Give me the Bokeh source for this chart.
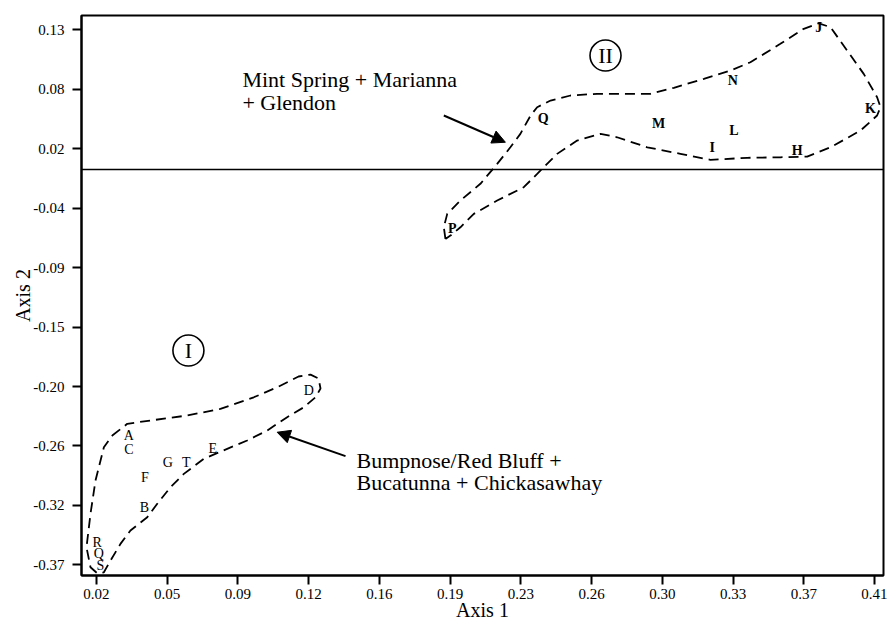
from bokeh.plotting import figure
from bokeh.models import Range1d, FixedTicker, Span, Arrow, NormalHead, Label, ColumnDataSource
from bokeh.core.properties import value
from bokeh.embed import file_html
from bokeh.resources import INLINE

FONT = "Liberation Serif"

# Axis ticks (evenly spaced positions, printed labels as in the reference)
x_tick_values = [0.016, 0.0514, 0.0868, 0.1222, 0.1576, 0.1930, 0.2284, 0.2638, 0.2992, 0.3346, 0.3700, 0.4054]
x_tick_labels = ["0.02", "0.05", "0.09", "0.12", "0.16", "0.19", "0.23", "0.26", "0.30", "0.33", "0.37", "0.41"]
y_tick_values = [-0.3712, -0.3154, -0.2596, -0.2038, -0.1480, -0.0922, -0.0364, 0.0194, 0.0752, 0.1310]
y_tick_labels = ["-0.37", "-0.32", "-0.26", "-0.20", "-0.15", "-0.09", "-0.04", "0.02", "0.08", "0.13"]

# Samples, group I
g1_labels = ["A", "C", "F", "G", "T", "E", "B", "D", "R", "Q", "S"]
g1_x = [0.0322, 0.0322, 0.0402, 0.0517, 0.0609, 0.0742, 0.0400, 0.1222, 0.0164, 0.0172, 0.0180]
g1_y = [-0.2498, -0.2630, -0.2890, -0.2754, -0.2754, -0.2623, -0.3171, -0.2076, -0.3500, -0.3609, -0.3719]

# Samples, group II
g2_labels = ["Q", "M", "N", "L", "I", "H", "K", "J", "P"]
g2_x = [0.2395, 0.2973, 0.3344, 0.3349, 0.3241, 0.3666, 0.4033, 0.3774, 0.1940]
g2_y = [0.0475, 0.0428, 0.0834, 0.0365, 0.0208, 0.0177, 0.0569, 0.1331, -0.0557]

# Hand-drawn group envelopes
hull1_x = [0.0239, 0.0314, 0.0430, 0.0614, 0.0780, 0.0947, 0.1064, 0.1171, 0.1231, 0.1271, 0.1281,
           0.1256, 0.1197, 0.1114, 0.1014, 0.0914, 0.0814, 0.0697, 0.0597, 0.0530, 0.0464, 0.0414,
           0.0330, 0.0280, 0.0230, 0.0197, 0.0164, 0.0130, 0.0110, 0.0130, 0.0155, 0.0197, 0.0239]
hull1_y = [-0.2498, -0.2388, -0.2357, -0.2310, -0.2248, -0.2139, -0.2045, -0.1944, -0.1926, -0.1963, -0.2057,
           -0.2139, -0.2233, -0.2326, -0.2451, -0.2545, -0.2623, -0.2717, -0.2858, -0.2984, -0.3139, -0.3265,
           -0.3390, -0.3515, -0.3672, -0.3782, -0.3791, -0.3735, -0.3547, -0.3233, -0.2921, -0.2608, -0.2498]
hull2_x = [0.1906, 0.1898, 0.1915, 0.1981, 0.2081, 0.2165, 0.2231, 0.2281, 0.2332, 0.2365, 0.2432, 0.2532,
           0.2665, 0.2932, 0.3049, 0.3199, 0.3332, 0.3432, 0.3582, 0.3699, 0.3774, 0.3833, 0.3916, 0.3999,
           0.4066, 0.4083, 0.4066, 0.3983, 0.3833, 0.3716, 0.3582, 0.3416, 0.3232, 0.3082, 0.2916, 0.2765,
           0.2682, 0.2565, 0.2465, 0.2365, 0.2298, 0.2165, 0.2048, 0.1981, 0.1931, 0.1906]
hull2_y = [-0.0652, -0.0543, -0.0417, -0.0292, -0.0135, 0.0052, 0.0208, 0.0334, 0.0506, 0.0584, 0.0647, 0.0694,
           0.0710, 0.0710, 0.0766, 0.0850, 0.0928, 0.1006, 0.1179, 0.1320, 0.1372, 0.1335, 0.1116, 0.0897,
           0.0678, 0.0584, 0.0506, 0.0365, 0.0208, 0.0121, 0.0114, 0.0109, 0.0090, 0.0146, 0.0208, 0.0302,
           0.0334, 0.0271, 0.0146, -0.0042, -0.0167, -0.0292, -0.0417, -0.0543, -0.0621, -0.0652]

# Group markers (roman numerals) and annotations
group_names = ["I", "II"]
group_x = [0.0620, 0.2707]
group_y = [-0.1700, 0.1069]

ann_lines = [["Mint Spring + Marianna", "+ Glendon"], ["Bumpnose/Red Bluff +", "Bucatunna + Chickasawhay"]]
ann_x = [0.0890, 0.1461]
ann_y = [[0.0841, 0.0631], [-0.2733, -0.2939]]
arrow_start = [(0.1898, 0.0506), (0.1406, -0.2691)]
arrow_end = [(0.2206, 0.0255), (0.1064, -0.2467)]

p = figure(width=887, height=633, output_backend="svg", toolbar_location=None,
           x_range=Range1d(0.0085, 0.4098), y_range=Range1d(-0.3812, 0.1445),
           frame_width=802, frame_height=560,
           min_border_left=81, min_border_top=15, min_border_right=4, min_border_bottom=58)
p.background_fill_color = "white"
p.border_fill_color = "white"
p.outline_line_color = "black"
p.outline_line_width = 2
p.xgrid.visible = False
p.ygrid.visible = False

p.xaxis.ticker = FixedTicker(ticks=x_tick_values)
p.yaxis.ticker = FixedTicker(ticks=y_tick_values)
p.xaxis.major_label_overrides = dict(zip(x_tick_values, x_tick_labels))
p.yaxis.major_label_overrides = dict(zip(y_tick_values, y_tick_labels))
for ax in (p.xaxis, p.yaxis):
    ax.major_tick_out = 9
    ax.major_tick_in = 0
    ax.minor_tick_out = 0
    ax.minor_tick_in = 0
    ax.axis_line_width = 2
    ax.major_tick_line_width = 2
    ax.axis_line_color = "black"
    ax.major_tick_line_color = "black"
    ax.major_label_text_font = FONT
    ax.major_label_text_font_size = "15px"
    ax.major_label_text_color = "black"
    ax.axis_label_text_font = FONT
    ax.axis_label_text_font_size = "20px"
    ax.axis_label_text_font_style = "normal"
    ax.axis_label_text_color = "black"
p.xaxis.axis_label = "Axis 1"
p.yaxis.axis_label = "Axis 2"
p.xaxis.major_label_standoff = 4
p.yaxis.major_label_standoff = 8
p.xaxis.axis_label_standoff = -3
p.yaxis.axis_label_standoff = -4

p.add_layout(Span(location=0, dimension="width", line_color="black", line_width=1.5))

p.line(hull1_x, hull1_y, line_color="black", line_width=1.8, line_dash="10 6")
p.line(hull2_x, hull2_y, line_color="black", line_width=1.8, line_dash="10 6")

src1 = ColumnDataSource(dict(x=g1_x, y=g1_y, t=g1_labels))
src2 = ColumnDataSource(dict(x=g2_x, y=g2_y, t=g2_labels))
p.text("x", "y", text="t", source=src1, text_font=value(FONT), text_font_size="14px",
       text_align="center", text_baseline="middle", text_color="black")
p.text("x", "y", text="t", source=src2, text_font=value(FONT), text_font_size="14px",
       text_font_style="bold", text_align="center", text_baseline="middle", text_color="black")

p.scatter(group_x, group_y, marker="circle", size=31, fill_color=None, line_color="black", line_width=1.6)
p.text(group_x, group_y, text=group_names, text_font=value(FONT), text_font_size="22px",
       text_align="center", text_baseline="middle", text_color="black")

for lines, lx, lys in zip(ann_lines, ann_x, ann_y):
    for t, ly in zip(lines, lys):
        p.add_layout(Label(x=lx, y=ly, text=t, text_font=FONT, text_font_size="22px",
                           text_baseline="alphabetic", text_align="left", text_color="black"))

for (sx, sy), (ex, ey) in zip(arrow_start, arrow_end):
    p.add_layout(Arrow(x_start=sx, y_start=sy, x_end=ex, y_end=ey, line_width=2, line_color="black",
                       end=NormalHead(size=13, fill_color="black", line_color="black")))

open("out.html", "w").write(file_html(p, INLINE))
